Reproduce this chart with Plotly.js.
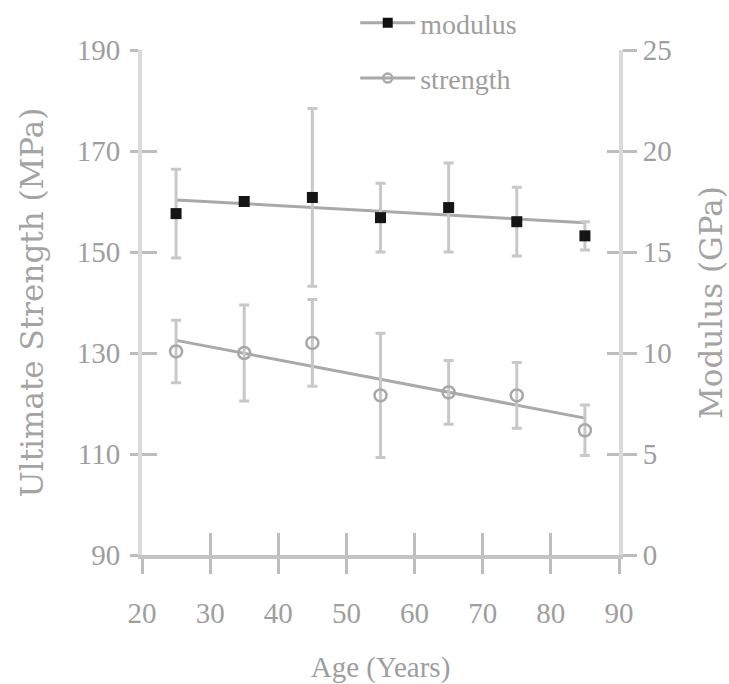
<!DOCTYPE html>
<html>
<head>
<meta charset="utf-8">
<script src="https://cdn.plot.ly/plotly-3.0.1.min.js"></script>
<style>
  html, body { margin: 0; padding: 0; background: #ffffff; }
  #chart { width: 729px; height: 684px; }
</style>
</head>
<body>
<div id="chart"></div>
<script>
// ---- data ----
const ages = [25, 35, 45, 55, 65, 75, 85];
const modulus = [16.9, 17.5, 17.7, 16.7, 17.2, 16.5, 15.8];
const modulusErr = [2.2, 0, 4.4, 1.7, 2.2, 1.7, 0.7];
const strength = [130.3, 130.0, 132.0, 121.6, 122.2, 121.6, 114.7];
const strengthErr = [6.2, 9.5, 8.6, 12.3, 6.3, 6.5, 5.0];
const fitAges = [25, 85];
const modulusFit = [17.58, 16.45];
const strengthFit = [132.5, 117.1];
const ageTicks = [20, 30, 40, 50, 60, 70, 80, 90];
const strengthTicks = [90, 110, 130, 150, 170, 190];
const modulusTicks = [0, 5, 10, 15, 20, 25];

const SERIF = 'Liberation Serif, Times New Roman, serif';
const TXT = '#9e9e9e';
const TICKC = '#bdbdbd';
const ERRC = '#c8c8c8';
const FITC = '#a9a9a9';

const traces = [
  { // legend entry: modulus
    name: 'modulus', x: [null], y: [null], xaxis: 'x2', yaxis: 'y',
    mode: 'lines+markers', legendgroup: 'm',
    line: { color: FITC, width: 3 },
    marker: { symbol: 'square', color: '#111', size: 10 },
    hoverinfo: 'skip'
  },
  { // legend entry: strength
    name: 'strength', x: [null], y: [null], xaxis: 'x', yaxis: 'y3',
    mode: 'lines+markers', legendgroup: 's',
    line: { color: FITC, width: 3 },
    marker: { symbol: 'circle-open', color: '#aaaaaa', size: 9, line: { width: 2.5 } },
    hoverinfo: 'skip'
  },
  { x: [null], y: [null], xaxis: 'x', yaxis: 'y4', showlegend: false, hoverinfo: 'skip', mode: 'markers' },
  { // strength fit line
    x: fitAges, y: strengthFit, xaxis: 'x', yaxis: 'y', mode: 'lines', showlegend: false,
    line: { color: FITC, width: 3 }
  },
  { // strength data
    x: ages, y: strength, xaxis: 'x', yaxis: 'y', mode: 'markers', showlegend: false,
    marker: { symbol: 'circle-open', color: '#a8a8a8', size: 12, line: { width: 2.5, color: '#a8a8a8' } },
    error_y: { type: 'data', array: strengthErr, visible: true, color: ERRC, thickness: 3, width: 5 }
  },
  { // modulus fit line
    x: fitAges, y: modulusFit, xaxis: 'x', yaxis: 'y2', mode: 'lines', showlegend: false,
    line: { color: FITC, width: 3 }
  },
  { // modulus data
    x: ages, y: modulus, xaxis: 'x', yaxis: 'y2', mode: 'markers', showlegend: false,
    marker: { symbol: 'square', color: '#151515', size: 11 },
    error_y: { type: 'data', array: modulusErr, visible: true, color: ERRC, thickness: 3, width: 5 }
  }
];

const common = { showgrid: false, zeroline: false, tickwidth: 3, tickcolor: TICKC, fixedrange: true };

const layout = {
  width: 729, height: 684,
  margin: { l: 142, r: 110, t: 50, b: 129, autoexpand: false },
  paper_bgcolor: '#ffffff', plot_bgcolor: '#ffffff',
  font: { family: SERIF, color: TXT, size: 29 },
  showlegend: true,
  legend: {
    x: 0.447, y: 1.103, xanchor: 'left', yanchor: 'top',
    font: { family: SERIF, size: 28, color: TXT },
    bgcolor: 'rgba(0,0,0,0)', tracegroupgap: 16, itemwidth: 55, traceorder: 'grouped'
  },
  xaxis: Object.assign({}, common, {
    range: [20, 90], tickmode: 'array', tickvals: ageTicks,
    ticks: 'outside', ticklen: 15, ticklabelstandoff: 14,
    showline: true, linecolor: '#c4c4c4', linewidth: 4,
    anchor: 'y', tickfont: { size: 29 },
    title: { text: 'Age (Years)', font: { family: SERIF, size: 29, color: TXT }, standoff: 30 }
  }),
  xaxis2: Object.assign({}, common, {
    overlaying: 'x', anchor: 'y', side: 'bottom', range: [20, 90],
    tickmode: 'array', tickvals: ageTicks, ticks: 'inside', ticklen: 22,
    showticklabels: false, showline: false
  }),
  yaxis: Object.assign({}, common, {
    range: [90, 190], tickmode: 'array', tickvals: strengthTicks,
    ticks: 'outside', ticklen: 8, ticklabelstandoff: 4,
    showline: true, linecolor: '#dadada', linewidth: 4, anchor: 'x',
    tickfont: { size: 29 },
    title: { text: 'Ultimate Strength (MPa)', font: { family: 'DejaVu Serif, serif', size: 31, color: '#a4a4a4' }, standoff: 25 }
  }),
  yaxis3: Object.assign({}, common, {
    overlaying: 'y', side: 'left', anchor: 'x', range: [90, 190],
    tickmode: 'array', tickvals: strengthTicks, ticks: 'inside', ticklen: 15,
    showticklabels: false, showline: false
  }),
  yaxis2: Object.assign({}, common, {
    overlaying: 'y', side: 'right', anchor: 'x', range: [0, 25],
    tickmode: 'array', tickvals: modulusTicks, ticks: 'outside', ticklen: 14,
    ticklabelstandoff: 0,
    showline: true, linecolor: '#dadada', linewidth: 4, tickfont: { size: 29 },
    title: { text: 'Modulus (GPa)', font: { family: 'DejaVu Serif, serif', size: 31, color: '#a4a4a4' }, standoff: 40 }
  }),
  yaxis4: Object.assign({}, common, {
    overlaying: 'y', side: 'right', anchor: 'x', range: [0, 25],
    tickmode: 'array', tickvals: modulusTicks, ticks: 'inside', ticklen: 12,
    showticklabels: false, showline: false
  })
};

Plotly.newPlot('chart', traces, layout, { displayModeBar: false, staticPlot: true });
</script>
</body>
</html>
